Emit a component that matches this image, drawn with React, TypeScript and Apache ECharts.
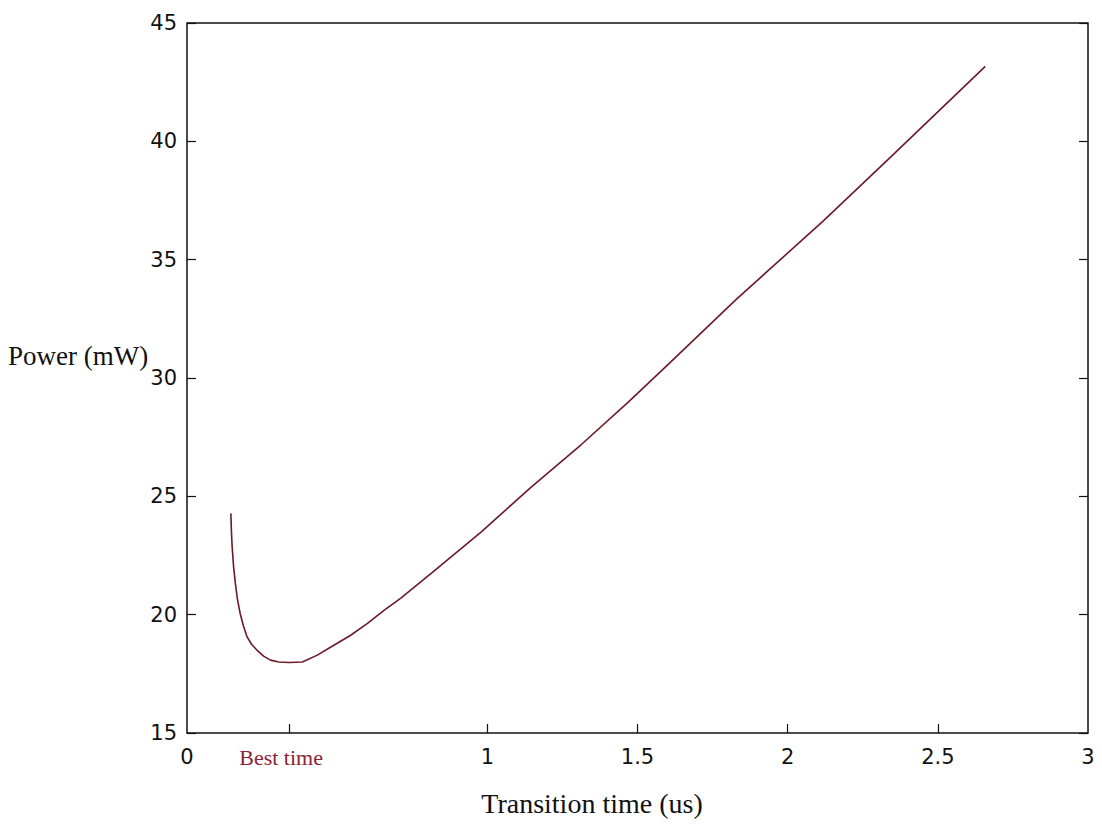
import React, { useEffect, useRef } from "react";
import * as echarts from "echarts";

const timeUs = [0.146, 0.148, 0.150, 0.155, 0.161, 0.168, 0.177, 0.188, 0.200, 0.215, 0.233, 0.255, 0.278, 0.305, 0.340, 0.384, 0.434, 0.489, 0.545, 0.601, 0.657, 0.712, 0.813, 0.980, 1.147, 1.314, 1.471, 1.604, 1.827, 2.117, 2.340, 2.658];
const powerMw = [24.28, 23.50, 22.94, 22.05, 21.32, 20.65, 20.05, 19.52, 19.06, 18.75, 18.50, 18.25, 18.08, 18.00, 17.98, 18.00, 18.29, 18.71, 19.13, 19.63, 20.19, 20.70, 21.74, 23.50, 25.40, 27.20, 29.00, 30.60, 33.30, 36.62, 39.30, 43.17];
const bestTime = 0.34;
const xTickValues = [bestTime, 1, 1.5, 2, 2.5];
const xLabelValues = [0, bestTime, 1, 1.5, 2, 2.5, 3];
const xTitle = "Transition time (us)";
const yTitle = "Power (mW)";
const bestLabel = "Best time";

export default function App() {
  const ref = useRef<HTMLDivElement>(null);
  useEffect(() => {
    if (!ref.current) return;
    const chart = echarts.init(ref.current, undefined, { renderer: "svg" });
    const data = timeUs.map((t, i) => [t, powerMw[i]]);
    const tickFont = { fontFamily: "DejaVu Sans", fontSize: 21, color: "#111" };
    chart.setOption({
      animation: false,
      backgroundColor: "#fff",
      grid: {
        left: 187,
        right: 14,
        top: 23,
        bottom: 96,
        show: true,
        borderColor: "#111",
        borderWidth: 1.5,
        backgroundColor: "#fff",
      },
      xAxis: {
        type: "value",
        min: 0,
        max: 3,
        interval: 0.5,
        axisLine: { show: false },
        splitLine: { show: false },
        axisTick: {
          show: true,
          inside: true,
          length: 9,
          customValues: xTickValues,
          lineStyle: { color: "#111", width: 1.2 },
        },
        axisLabel: {
          ...tickFont,
          margin: 13,
          customValues: xLabelValues,
          formatter: (v: number) =>
            Math.abs(v - bestTime) < 1e-6 ? "{best|" + bestLabel + "}" : String(v),
          rich: {
            best: {
              fontFamily: "Liberation Serif",
              fontSize: 22,
              color: "#8b2332",
              padding: [0, 16, 0, 0],
            },
          },
        },
      },
      yAxis: [
        {
          type: "value",
          min: 15,
          max: 45,
          interval: 5,
          axisLine: { show: false },
          splitLine: { show: false },
          axisTick: { show: true, inside: true, length: 9, lineStyle: { color: "#111", width: 1.2 } },
          axisLabel: { ...tickFont, margin: 10 },
        },
        {
          type: "value",
          position: "right",
          min: 15,
          max: 45,
          interval: 5,
          axisLine: { show: false },
          splitLine: { show: false },
          axisTick: { show: true, inside: true, length: 9, lineStyle: { color: "#111", width: 1.2 } },
          axisLabel: { show: false },
        },
      ],
      graphic: [
        {
          type: "text",
          x: 8,
          y: 356,
          style: {
            text: yTitle,
            fontFamily: "Liberation Serif",
            fontSize: 27,
            fill: "#111",
            align: "left",
            verticalAlign: "middle",
          },
        },
        {
          type: "text",
          x: 592,
          y: 803,
          style: {
            text: xTitle,
            fontFamily: "Liberation Serif",
            fontSize: 28,
            fill: "#111",
            align: "center",
            verticalAlign: "middle",
          },
        },
      ],
      series: [
        {
          type: "line",
          yAxisIndex: 0,
          data,
          showSymbol: false,
          smooth: false,
          lineStyle: { color: "#6b1a26", width: 1.6 },
        },
      ],
    });
    return () => chart.dispose();
  }, []);
  return (
    <div
      ref={ref}
      style={{ position: "absolute", left: 0, top: 0, width: 1102, height: 829 }}
    />
  );
}
